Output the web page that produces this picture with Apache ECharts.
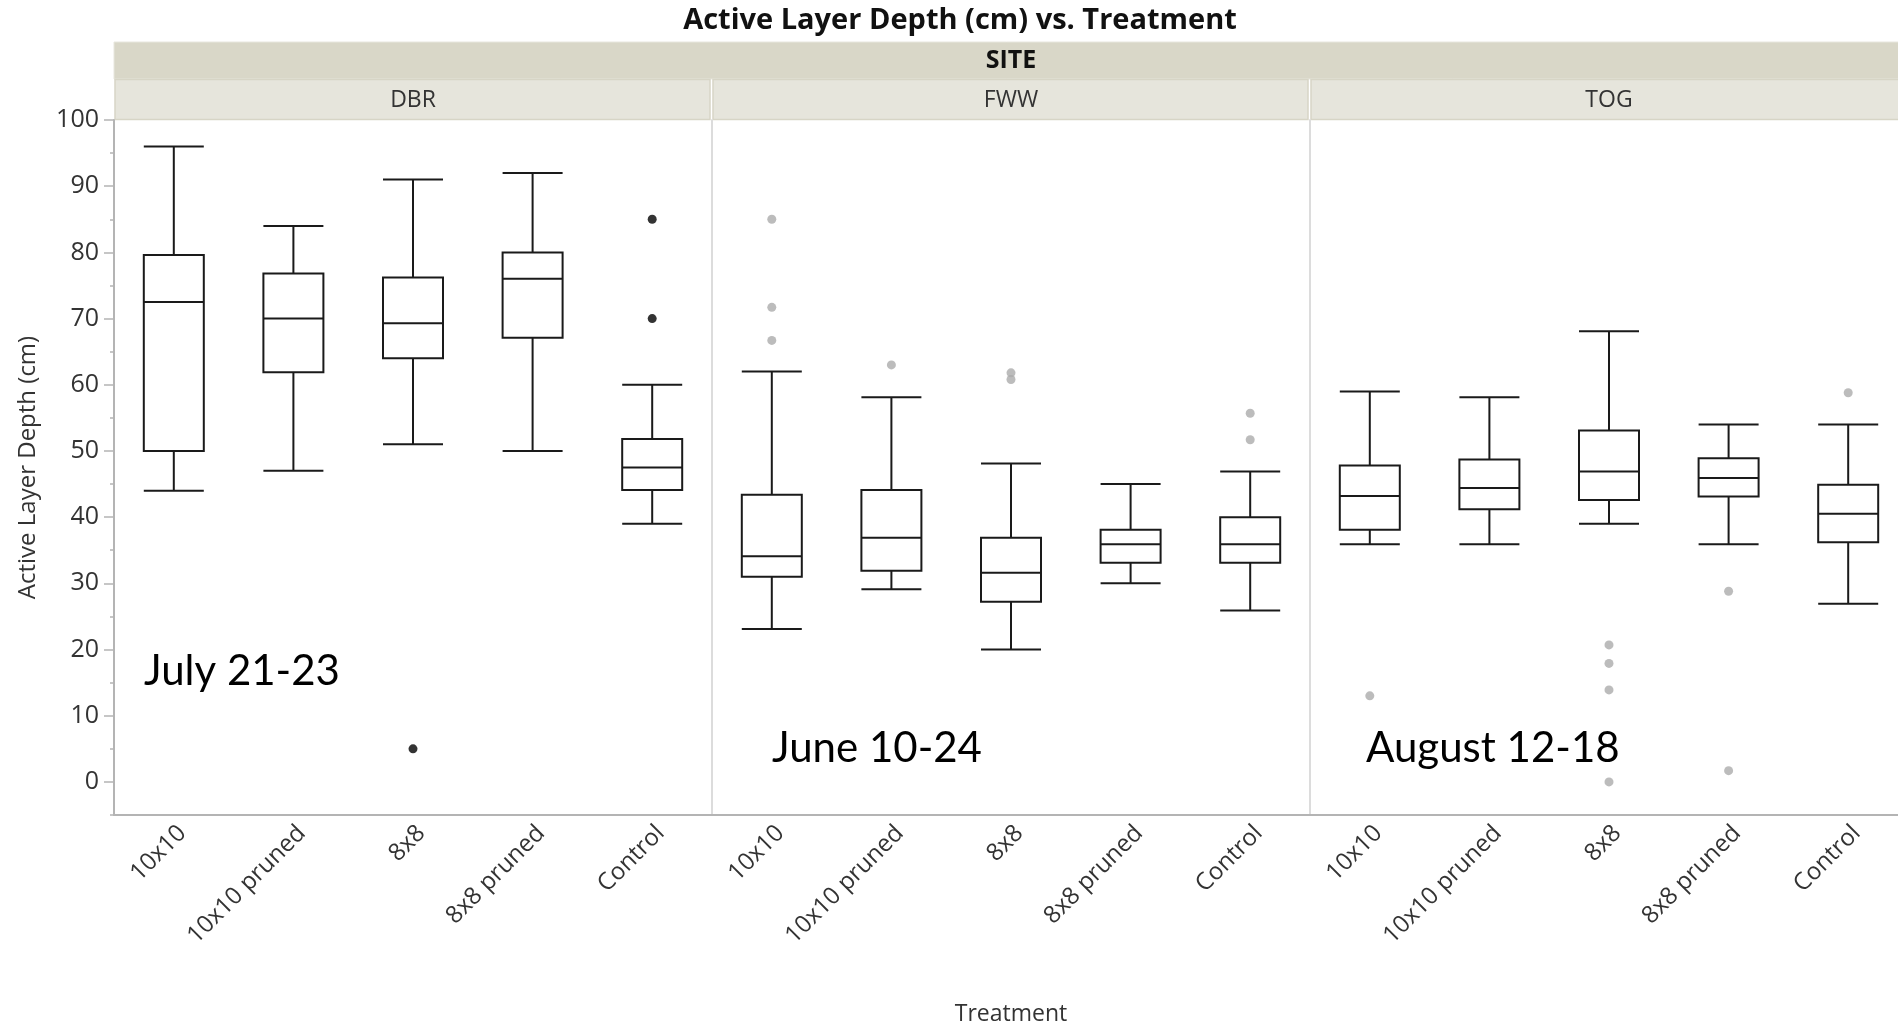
<!DOCTYPE html>
<html>
<head>
<meta charset="utf-8">
<script src="https://cdn.jsdelivr.net/npm/echarts@6/dist/echarts.min.js"></script>
<style>
  html, body { margin: 0; padding: 0; background: #fff; }
  #chart { width: 1898px; height: 1027px; }
</style>
</head>
<body>
<div id="chart"></div>
<script>
// ---------------- data ----------------
const treatments = ['10x10', '10x10 pruned', '8x8', '8x8 pruned', 'Control'];
const sites = ['DBR', 'FWW', 'TOG'];
const siteDates = ['July 21-23', 'June 10-24', 'August 12-18'];

// [low whisker, Q1, median, Q3, high whisker] per treatment
const dbrBoxes = [
  [44, 50, 72.5, 79.6, 96],
  [47, 61.9, 70, 76.8, 84],
  [51, 64, 69.3, 76.2, 91],
  [50, 67.1, 76, 80, 92],
  [39, 44.1, 47.5, 51.8, 60]
];
const fwwBoxes = [
  [23.1, 31, 34.1, 43.4, 62],
  [29.1, 31.9, 36.9, 44.1, 58.1],
  [20, 27.2, 31.6, 36.9, 48.1],
  [30, 33.1, 35.9, 38.1, 45],
  [25.9, 33.1, 35.9, 40, 46.9]
];
const togBoxes = [
  [35.9, 38.1, 43.2, 47.8, 59],
  [35.9, 41.2, 44.4, 48.7, 58.1],
  [39, 42.6, 46.9, 53.1, 68.1],
  [35.9, 43.1, 45.9, 48.9, 54],
  [26.9, 36.2, 40.5, 44.9, 54]
];

// outliers: [treatment, value]
const dbrOutliers = [['8x8', 5], ['Control', 85], ['Control', 70]];
const fwwOutliers = [
  ['10x10', 85], ['10x10', 71.7], ['10x10', 66.7],
  ['10x10 pruned', 63],
  ['8x8', 61.8], ['8x8', 60.8],
  ['Control', 55.7], ['Control', 51.7]
];
const togOutliers = [
  ['10x10', 13],
  ['8x8', 20.7], ['8x8', 17.9], ['8x8', 13.9], ['8x8', 0],
  ['8x8 pruned', 28.8], ['8x8 pruned', 1.7],
  ['Control', 58.8]
];

const yMin = -5, yMax = 100;

// ---------------- layout / style ----------------
const FONT = '"Open Sans", "DejaVu Sans", sans-serif';
const PLOT_LEFT = 114, PANEL_W = 598, PLOT_TOP = 120, PLOT_H = 695;
const AXIS_GRAY = '#b4b4b4';
const DIV_GRAY = '#dcdcdc';

const boxesBySite = [dbrBoxes, fwwBoxes, togBoxes];
const outliersBySite = [dbrOutliers, fwwOutliers, togOutliers];
const outlierColors = ['#000000', '#ababab', '#ababab'];

const grids = sites.map((s, i) => ({
  left: PLOT_LEFT + i * PANEL_W,
  top: PLOT_TOP,
  width: PANEL_W,
  height: PLOT_H,
  containLabel: false,
  outerBoundsMode: 'none'
}));

const xAxes = sites.map((s, i) => ({
  type: 'category',
  gridIndex: i,
  data: treatments,
  boundaryGap: true,
  axisLine: { show: true, onZero: false, lineStyle: { color: AXIS_GRAY, width: 2 } },
  axisTick: { show: false },
  splitLine: { show: false },
  axisLabel: {
    rotate: 45, margin: 6, fontSize: 24, color: '#333', fontFamily: FONT, interval: 0,
    verticalAlign: 'top'
  },
  name: i === 1 ? 'Treatment' : '',
  nameLocation: 'middle',
  nameGap: 188,
  nameTextStyle: { fontSize: 23, color: '#333', fontFamily: FONT }
}));

const yAxes = [
  // minor ticks (every 5) for first panel
  {
    type: 'value', gridIndex: 0, min: yMin, max: yMax, interval: 5, position: 'left',
    axisLine: { show: true, onZero: false, lineStyle: { color: AXIS_GRAY, width: 2 } },
    axisTick: { show: true, length: 4, lineStyle: { color: AXIS_GRAY, width: 1.5 } },
    axisLabel: { show: false },
    splitLine: { show: false }
  },
  // major ticks and labels (every 10)
  {
    type: 'value', gridIndex: 0, min: yMin, max: yMax, splitNumber: 10, position: 'left',
    axisLine: { show: false, onZero: false },
    axisTick: { show: true, length: 10, lineStyle: { color: AXIS_GRAY, width: 1.5 } },
    axisLabel: {
      show: true, margin: 15, fontSize: 25, color: '#333', fontFamily: FONT,
      showMinLabel: false,
      formatter: v => (v % 10 === 0 ? String(v) : '')
    },
    splitLine: { show: false },
    name: 'Active Layer Depth (cm)',
    nameLocation: 'middle',
    nameGap: 74,
    nameRotate: 90,
    nameTextStyle: { fontSize: 24, color: '#333', fontFamily: FONT }
  },
  // panels 2 and 3: only divider line
  ...[1, 2].map(i => ({
    type: 'value', gridIndex: i, min: yMin, max: yMax, position: 'left',
    axisLine: { show: true, onZero: false, lineStyle: { color: DIV_GRAY, width: 2 } },
    axisTick: { show: false },
    axisLabel: { show: false },
    splitLine: { show: false }
  }))
];

const yAxisForGrid = [1, 2, 3];

const series = [];
sites.forEach((s, i) => {
  series.push({
    name: s + ' boxes',
    type: 'boxplot',
    xAxisIndex: i,
    yAxisIndex: yAxisForGrid[i],
    data: boxesBySite[i],
    boxWidth: [60, 60],
    itemStyle: { color: '#ffffff', borderColor: '#1a1a1a', borderWidth: 2 },
    emphasis: { disabled: true },
    silent: true,
    z: 3
  });
  series.push({
    name: s + ' outliers',
    type: 'scatter',
    xAxisIndex: i,
    yAxisIndex: yAxisForGrid[i],
    data: outliersBySite[i],
    symbol: 'circle',
    symbolSize: 9,
    itemStyle: { color: outlierColors[i] },
    silent: true,
    z: 4
  });
});

// header bands
const graphics = [];
graphics.push({
  type: 'rect',
  shape: { x: PLOT_LEFT, y: 42, width: 3 * PANEL_W, height: 37 },
  style: { fill: '#d9d7c8', stroke: '#e8e7de', lineWidth: 1 },
  silent: true
});
graphics.push({
  type: 'text',
  x: PLOT_LEFT + 1.5 * PANEL_W, y: 61,
  style: {
    text: 'SITE', fill: '#111', font: 'bold 25px ' + FONT,
    textAlign: 'center', textVerticalAlign: 'middle'
  },
  silent: true
});
sites.forEach((s, i) => {
  graphics.push({
    type: 'rect',
    shape: { x: PLOT_LEFT + i * PANEL_W + 1, y: 79.5, width: PANEL_W - 3, height: 40 },
    style: { fill: '#e6e5dc', stroke: '#d7d5c6', lineWidth: 1.5 },
    silent: true
  });
  graphics.push({
    type: 'text',
    x: PLOT_LEFT + (i + 0.5) * PANEL_W, y: 100,
    style: {
      text: s, fill: '#333', font: '23px ' + FONT,
      textAlign: 'center', textVerticalAlign: 'middle'
    },
    silent: true
  });
});
// date annotations
const datePos = [[144, 692], [772, 769], [1366, 769]];
siteDates.forEach((d, i) => {
  graphics.push({
    type: 'text',
    x: datePos[i][0], y: datePos[i][1],
    style: {
      text: d, fill: '#000', font: '42px Lato, "Open Sans", sans-serif',
      textAlign: 'left', textVerticalAlign: 'bottom'
    },
    silent: true,
    z: 10
  });
});

const chart = echarts.init(document.getElementById('chart'), null, { renderer: 'canvas' });
chart.setOption({
  backgroundColor: '#ffffff',
  animation: false,
  title: {
    text: 'Active Layer Depth (cm) vs. Treatment',
    left: 955,
    textAlign: 'center',
    top: 1,
    textStyle: { fontSize: 29, fontWeight: 'bold', color: '#111', fontFamily: FONT }
  },
  grid: grids,
  xAxis: xAxes,
  yAxis: yAxes,
  series: series,
  graphic: graphics
});
</script>
</body>
</html>
